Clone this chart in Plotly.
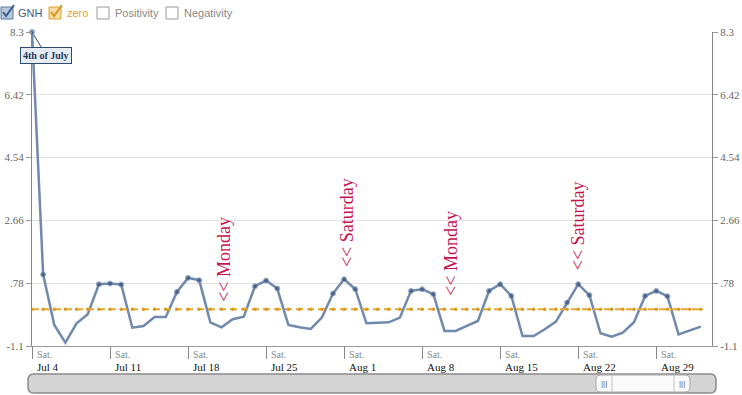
import plotly.graph_objects as go
import pandas as pd

# ---------------- data ----------------
start = "2009-07-04"
n_days = 61
dates = pd.date_range(start, periods=n_days, freq="D")
gnh = [8.30, 1.04, -0.47, -1.00, -0.42, -0.15, 0.75, 0.77, 0.74, -0.55,
       -0.50, -0.23, -0.23, 0.52, 0.94, 0.87, -0.39, -0.54, -0.30, -0.22,
       0.69, 0.86, 0.62, -0.47, -0.54, -0.59, -0.25, 0.47, 0.90, 0.60,
       -0.42, -0.40, -0.39, -0.25, 0.55, 0.60, 0.45, -0.65, -0.65, -0.50,
       -0.35, 0.55, 0.75, 0.40, -0.80, -0.80, -0.60, -0.37, 0.20, 0.75,
       0.42, -0.72, -0.82, -0.70, -0.39, 0.40, 0.55, 0.39, -0.75, -0.64,
       -0.52]
zero = [0.0] * n_days
ytick_vals = [-1.1, 0.78, 2.66, 4.54, 6.42, 8.3]
ytick_text = ["-1.1", ".78", "2.66", "4.54", "6.42", "8.3"]
week_ticks = pd.date_range(start, periods=9, freq="7D")
week_day_label = "Sat."
week_labels = [f"{d:%b} {d.day}" for d in week_ticks]
flag_text = ["<< Monday", "<< Saturday", "<< Monday", "<< Saturday"]
flag_days = [17.2, 28.2, 37.6, 49.0]
flag_values = [0.17, 1.2, 0.33, 1.1]
legend_names = ["GNH", "zero", "Positivity", "Negativity"]

# ---------------- geometry helpers ----------------
W, H = 742, 395
L, R, T, B = 32, 30, 32, 49
PW, PH = W - L - R, H - T - B


def px(x):
    return (x - L) / PW


def py(y):
    return (H - B - y) / PH


def rrect(x0, y0, x1, y1, r):
    pts = [
        ("M", [(x0 + r, y0)]), ("L", [(x1 - r, y0)]), ("Q", [(x1, y0), (x1, y0 + r)]),
        ("L", [(x1, y1 - r)]), ("Q", [(x1, y1), (x1 - r, y1)]), ("L", [(x0 + r, y1)]),
        ("Q", [(x0, y1), (x0, y1 - r)]), ("L", [(x0, y0 + r)]), ("Q", [(x0, y0), (x0 + r, y0)]),
    ]
    s = ""
    for cmd, ps in pts:
        s += cmd + " " + " ".join(f"{px(a):.5f},{py(b):.5f}" for a, b in ps) + " "
    return s + "Z"


def ts(d):
    return (pd.Timestamp(start) + pd.Timedelta(days=d)).strftime("%Y-%m-%d %H:%M:%S")


LINE_C = "#7089ac"
MARK_C = "#36527c"
ZERO_C = "#e8a830"
FLAG_C = "#c4124f"
SERIF = "Liberation Serif"
SANS = "Liberation Sans"

fig = go.Figure()
fig.add_trace(go.Scatter(
    x=dates, y=gnh, mode="lines+markers", name="GNH",
    line=dict(color=LINE_C, width=2.5),
    marker=dict(color=MARK_C, size=[5 if v > 0 else 0 for v in gnh]),
    showlegend=False, hoverinfo="x+y", cliponaxis=False))
fig.add_trace(go.Scatter(
    x=dates, y=zero, mode="lines+markers", name="zero", yaxis="y2",
    line=dict(color=ZERO_C, width=2, dash="7px,4px"),
    marker=dict(color="#dc9a20", size=3.5),
    showlegend=False, hoverinfo="x+y"))

axis_common = dict(range=[-1.1, 8.3], tickvals=ytick_vals, ticktext=ytick_text,
                   ticks="outside", ticklen=5, tickcolor="#999", showline=True,
                   linecolor="#888", linewidth=1, zeroline=False, automargin=False,
                   tickfont=dict(family=SERIF, size=11, color="#666"))

fig.update_layout(
    width=W, height=H,
    margin=dict(l=L, r=R, t=T, b=B, pad=0, autoexpand=False),
    paper_bgcolor="white", plot_bgcolor="white",
    showlegend=False,
    xaxis=dict(type="date", range=[ts(0), ts(61)], tickvals=week_ticks,
               showticklabels=False, ticks="outside", ticklen=12, tickcolor="#888",
               showline=True, linecolor="#999", showgrid=False, zeroline=False,
               automargin=False),
    yaxis=dict(side="left", showgrid=True, gridcolor="#e2e2e2", **axis_common),
    yaxis2=dict(side="right", overlaying="y", showgrid=False, **axis_common),
)

ann = []
# week labels
for d, lab in zip(week_ticks, week_labels):
    ann.append(dict(x=d, y=py(354), xref="x", yref="paper", text=week_day_label,
                    showarrow=False, xanchor="left", yanchor="middle", xshift=3,
                    font=dict(family=SERIF, size=10, color="#888")))
    ann.append(dict(x=d, y=py(367), xref="x", yref="paper", text=lab,
                    showarrow=False, xanchor="left", yanchor="middle", xshift=3,
                    font=dict(family=SERIF, size=11, color="#111")))
# flags
for t, d, v in zip(flag_text, flag_days, flag_values):
    ann.append(dict(x=ts(d), y=v, xref="x", yref="y", text=t, textangle=-90,
                    showarrow=False, xanchor="center", yanchor="bottom",
                    font=dict(family=SERIF, size=18, color=FLAG_C)))
# 4th of July callout
ann.append(dict(x=dates[0], y=gnh[0], xref="x", yref="y", text="<b>4th of July</b>",
                showarrow=True, arrowhead=0, arrowwidth=1, arrowcolor="#2f4a70",
                ax=14, ay=23, standoff=3,
                bgcolor="#e6ecf4", bordercolor="#2f4a70", borderwidth=1, borderpad=2,
                font=dict(family=SERIF, size=10, color="#1f3a60")))

# legend (checkbox look)
legend_items = [
    (legend_names[0], 1, 16, "#b9c8dc", "#5a78a0", "#3c5c8c", "#3c5c8c"),
    (legend_names[1], 49, 65, "#f6dba4", "#e0a030", "#e8a030", "#d99520"),
    (legend_names[2], 97, 113, "white", "#999", "#888", None),
    (legend_names[3], 166, 182, "white", "#999", "#888", None),
]
shapes = []
for name, bx, tx, fill, border, tcol, check in legend_items:
    shapes.append(dict(type="rect", xref="paper", yref="paper",
                       x0=px(bx), x1=px(bx + 12), y0=py(19), y1=py(7),
                       fillcolor=fill, line=dict(color=border, width=1), layer="above"))
    if check:
        path = (f"M {px(bx + 2):.5f},{py(12):.5f} L {px(bx + 5):.5f},{py(16):.5f} "
                f"L {px(bx + 13):.5f},{py(5):.5f}")
        shapes.append(dict(type="path", xref="paper", yref="paper", path=path,
                           line=dict(color=check, width=2), layer="above"))
    ann.append(dict(x=px(tx), y=py(13), xref="paper", yref="paper", text=name,
                    showarrow=False, xanchor="left", yanchor="middle",
                    font=dict(family=SANS, size=11, color=tcol)))

# navigator scrollbar
shapes.append(dict(type="path", xref="paper", yref="paper", path=rrect(28, 374, 716, 393, 6),
                   fillcolor="#d4d4d4", line=dict(color="#8a8a8a", width=1.5), layer="above"))
shapes.append(dict(type="path", xref="paper", yref="paper", path=rrect(596, 375, 690, 392, 5),
                   fillcolor="#fafafa", line=dict(color="#a8a8a8", width=1), layer="above"))
for gx in (612, 674):
    shapes.append(dict(type="line", xref="paper", yref="paper", x0=px(gx), x1=px(gx),
                       y0=py(375), y1=py(392), line=dict(color="#c0c0c0", width=1), layer="above"))
for gx in (604, 682):
    ann.append(dict(x=px(gx), y=py(383.5), xref="paper", yref="paper", text="|||",
                    showarrow=False, xanchor="center", yanchor="middle",
                    font=dict(family=SANS, size=8, color="#666")))

fig.update_layout(annotations=ann, shapes=shapes)
fig.write_html("out.html", config={"displayModeBar": False},
               post_script="document.body.style.margin='0';document.body.style.overflow='hidden';")
